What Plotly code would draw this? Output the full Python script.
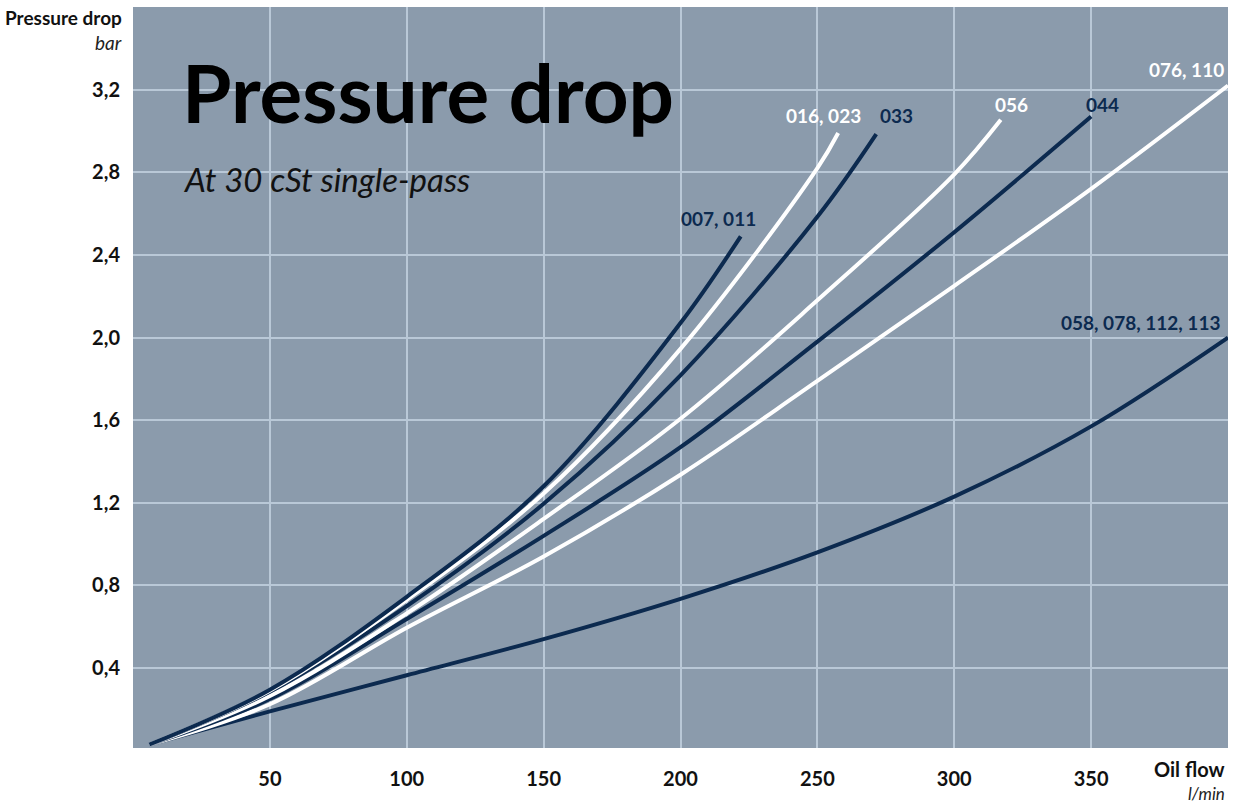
import plotly.graph_objects as go

# ---------------- data ----------------
series_names = ["007, 011", "016, 023", "033", "056", "044", "076, 110", "058, 078, 112, 113"]

flow_007 = [6, 50, 100, 150, 200, 222]
drop_007 = [0.03, 0.295, 0.745, 1.28, 2.07, 2.49]

flow_016 = [6, 50, 100, 150, 200, 250, 257.6]
drop_016 = [0.03, 0.29, 0.73, 1.245, 1.945, 2.82, 2.99]

flow_033 = [6, 50, 100, 150, 200, 250, 271.5]
drop_033 = [0.03, 0.285, 0.70, 1.195, 1.817, 2.585, 2.985]

flow_056 = [6, 50, 100, 150, 200, 250, 300, 317]
drop_056 = [0.03, 0.265, 0.665, 1.122, 1.607, 2.18, 2.79, 3.054]

flow_044 = [6, 50, 100, 150, 200, 250, 300, 350]
drop_044 = [0.03, 0.25, 0.637, 1.04, 1.469, 1.98, 2.51, 3.07]

flow_076 = [6, 50, 100, 150, 200, 250, 300, 350, 400]
drop_076 = [0.03, 0.225, 0.595, 0.94, 1.336, 1.79, 2.25, 2.72, 3.22]

flow_058 = [6, 50, 100, 150, 200, 250, 300, 350, 400]
drop_058 = [0.03, 0.19, 0.365, 0.54, 0.735, 0.96, 1.23, 1.57, 2.0]

x_tickvals = [50, 100, 150, 200, 250, 300, 350]
x_ticktext = ["50", "100", "150", "200", "250", "300", "350"]
y_tickvals = [0.4, 0.8, 1.2, 1.6, 2.0, 2.4, 2.8, 3.2]
y_ticktext = ["0,4", "0,8", "1,2", "1,6", "2,0", "2,4", "2,8", "3,2"]

# ---------------- styling ----------------
DARK = "#0c2a4f"
WHITE = "#ffffff"
BG = "#8b9bac"
GRID = "#b9c8d7"
FONT = "Lato"

flows = [flow_007, flow_016, flow_033, flow_056, flow_044, flow_076, flow_058]
drops = [drop_007, drop_016, drop_033, drop_056, drop_044, drop_076, drop_058]
colors = [DARK, WHITE, DARK, WHITE, DARK, WHITE, DARK]
# label offsets (pixels) relative to the end point of each curve
label_shift = [(-22, 18), (-15, 18), (20, 19), (11, 15), (11, 12), (-42, 16), (-88, 15)]

fig = go.Figure()
draw_order = [6, 5, 4, 3, 2, 1, 0]
for i in draw_order:
    fig.add_trace(go.Scatter(
        x=flows[i], y=drops[i], mode="lines", name=series_names[i],
        line=dict(color=colors[i], width=4, shape="spline", smoothing=1.0),
        hoverinfo="skip", showlegend=False,
    ))

annotations = []
for i, name in enumerate(series_names):
    dx, dy = label_shift[i]
    annotations.append(dict(
        x=flows[i][-1], y=drops[i][-1], xref="x", yref="y",
        text=name, showarrow=False, xshift=dx, yshift=dy,
        font=dict(family=FONT, size=19, color=colors[i], weight="bold"),
        xanchor="center", yanchor="middle",
    ))

# titles and axis captions (pixel positions, converted below)
annotations += [
    dict(x=180, y=92, text="<b>Pressure drop</b>", showarrow=False,
         font=dict(family=FONT, size=80, color="#000000"), xanchor="left", yanchor="middle"),
    dict(x=181, y=179, text="<i>At 30 cSt single-pass</i>", showarrow=False,
         font=dict(family=FONT, size=33, color="#111111"), xanchor="left", yanchor="middle"),
    dict(x=124, y=17, text="<b>Pressure drop</b>", showarrow=False,
         font=dict(family=FONT, size=19, color="#111111"), xanchor="right", yanchor="middle"),
    dict(x=124, y=42, text="<i>bar</i>", showarrow=False,
         font=dict(family=FONT, size=19, color="#222222"), xanchor="right", yanchor="middle"),
    dict(x=1227, y=769, text="<b>Oil flow</b>", showarrow=False,
         font=dict(family=FONT, size=20, color="#111111"), xanchor="right", yanchor="middle"),
    dict(x=1227, y=794, text="<i>l/min</i>", showarrow=False,
         font=dict(family=FONT, size=17, color="#222222"), xanchor="right", yanchor="middle"),
]

W, H = 1233, 805
ML, MR, MT, MB = 133, 5, 7, 57
pw, ph = W - ML - MR, H - MT - MB
for a in annotations[len(series_names):]:
    px, py = a["x"], a["y"]
    a["xref"] = "paper"
    a["yref"] = "paper"
    a["x"] = (px - ML) / pw
    a["y"] = 1 - (py - MT) / ph

fig.update_layout(
    width=W, height=H,
    margin=dict(l=ML, r=MR, t=MT, b=MB, pad=0),
    paper_bgcolor="white", plot_bgcolor=BG,
    font=dict(family=FONT, size=20, color="#111111"),
    annotations=annotations,
    showlegend=False,
)
fig.update_xaxes(
    range=[0, 400], tickvals=x_tickvals, ticktext=x_ticktext,
    showgrid=True, gridcolor=GRID, gridwidth=2, zeroline=False, showline=False,
    ticks="outside", ticklen=13, tickcolor="rgba(0,0,0,0)",
    tickfont=dict(family=FONT, size=20, color="#111111", weight="bold"),
    fixedrange=True,
)
fig.update_yaxes(
    range=[0.013, 3.6], tickvals=y_tickvals, ticktext=y_ticktext,
    showgrid=True, gridcolor=GRID, gridwidth=2, zeroline=False, showline=False,
    ticks="outside", ticklen=8, tickcolor="rgba(0,0,0,0)",
    tickfont=dict(family=FONT, size=20, color="#111111", weight="bold"),
    fixedrange=True,
)

fig.write_html(
    "out.html",
    config={"displayModeBar": False},
    post_script="document.body.style.margin='0px';document.body.style.overflow='hidden';",
)
